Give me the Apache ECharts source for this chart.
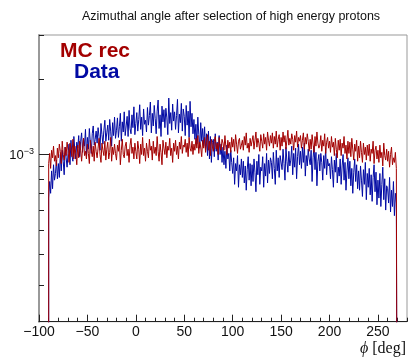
<!DOCTYPE html>
<html>
<head>
<meta charset="utf-8">
<script src="https://cdn.jsdelivr.net/npm/echarts@6/dist/echarts.min.js"></script>
<style>
  html, body { margin: 0; padding: 0; background: #fff; }
  #chart { width: 409px; height: 357px; }
</style>
</head>
<body>
<div id="chart"></div>
<script>
// histogram: 1 degree bins from -90 to 270, contents in units of 1e-5
const UNIT = 1e-5;
const binStart = -90;
const binWidth = 1;

const mcRec = [
  92, 101, 88, 104, 97, 108, 94, 99, 90, 106,
  97, 110, 103, 92, 113, 100, 95, 107, 99, 112,
  104, 93, 111, 106, 98, 115, 96, 108, 101, 91,
  109, 97, 113, 104, 94, 106, 116, 99, 103, 96,
  110, 101, 92, 114, 105, 98, 108, 94, 112, 103,
  97, 106, 116, 100, 93, 111, 104, 99, 113, 95,
  105, 112, 96, 102, 117, 94, 107, 100, 110, 101,
  95, 109, 103, 114, 91, 104, 115, 100, 97, 108,
  112, 99, 105, 93, 109, 116, 101, 107, 96, 111,
  103, 96, 113, 105, 92, 110, 100, 117, 99, 106,
  94, 111, 103, 97, 115, 104, 108, 95, 113, 101,
  107, 99, 118, 103, 94, 110, 102, 91, 114, 106,
  100, 112, 97, 108, 104, 116, 99, 106, 93, 111,
  103, 114, 100, 108, 96, 112, 105, 118, 101, 109,
  107, 115, 102, 111, 98, 117, 106, 103, 113, 100,
  110, 104, 116, 106, 119, 101, 112, 107, 98, 114,
  106, 117, 102, 111, 120, 104, 113, 99, 115, 108,
  103, 113, 118, 105, 111, 100, 117, 108, 104, 115,
  111, 104, 119, 107, 100, 114, 106, 112, 102, 117,
  107, 115, 103, 120, 110, 101, 113, 116, 105, 109,
  114, 104, 118, 109, 122, 106, 111, 102, 116, 108,
  109, 119, 105, 114, 123, 107, 116, 111, 103, 120,
  113, 106, 121, 110, 117, 104, 123, 114, 108, 119,
  111, 122, 106, 118, 110, 124, 107, 115, 120, 104,
  117, 108, 123, 112, 119, 105, 114, 125, 109, 116,
  110, 121, 115, 104, 119, 112, 124, 107, 117, 113,
  119, 106, 114, 122, 105, 117, 110, 121, 113, 103,
  115, 105, 120, 110, 102, 118, 108, 123, 111, 106,
  109, 119, 103, 114, 108, 121, 101, 112, 117, 106,
  113, 102, 118, 107, 112, 99, 116, 105, 97, 114,
  104, 115, 99, 111, 106, 118, 101, 109, 96, 113,
  101, 112, 98, 116, 105, 95, 110, 103, 114, 94,
  108, 97, 113, 102, 93, 111, 100, 107, 95, 109,
  99, 110, 94, 105, 101, 113, 92, 104, 108, 96,
  104, 93, 109, 97, 102, 90, 111, 99, 95, 105,
  94, 103, 89, 100, 107, 91, 97, 93, 102, 88
];

const data = [
  67, 78, 70, 86, 73, 91, 79, 84, 95, 80,
  92, 81, 100, 86, 104, 94, 83, 107, 97, 89,
  101, 110, 91, 114, 99, 94, 118, 104, 96, 112,
  106, 119, 98, 113, 122, 102, 116, 108, 126, 99,
  117, 105, 127, 112, 101, 121, 130, 109, 115, 124,
  111, 128, 118, 104, 133, 120, 110, 125, 137, 113,
  122, 131, 114, 138, 124, 108, 134, 119, 141, 116,
  125, 140, 117, 129, 146, 113, 135, 123, 148, 119,
  130, 142, 118, 150, 127, 121, 144, 128, 155, 120,
  133, 147, 124, 138, 158, 126, 141, 119, 152, 132,
  137, 123, 154, 131, 143, 162, 122, 146, 130, 157,
  139, 121, 149, 165, 127, 144, 118, 156, 135, 151,
  128, 153, 140, 120, 168, 133, 147, 125, 159, 136,
  148, 126, 143, 166, 122, 145, 134, 160, 124, 152,
  142, 119, 157, 131, 149, 117, 163, 129, 146, 121,
  138, 115, 132, 110, 141, 120, 106, 134, 113, 127,
  108, 129, 104, 121, 99, 124, 96, 118, 93, 112,
  115, 98, 121, 103, 112, 95, 119, 100, 110, 93,
  107, 91, 103, 88, 109, 96, 101, 86, 104, 93,
  84, 97, 76, 92, 86, 99, 74, 91, 83, 96,
  81, 94, 77, 90, 72, 87, 98, 79, 92, 75,
  91, 78, 96, 85, 71, 94, 83, 100, 76, 89,
  86, 98, 74, 92, 82, 101, 77, 95, 84, 97,
  93, 80, 102, 88, 76, 104, 86, 97, 81, 99,
  100, 87, 105, 92, 79, 107, 94, 85, 103, 90,
  95, 108, 83, 101, 89, 106, 80, 98, 110, 91,
  103, 88, 107, 93, 111, 82, 99, 90, 105, 96,
  91, 104, 78, 97, 108, 87, 102, 75, 94, 100,
  86, 101, 93, 79, 99, 88, 106, 83, 96, 90,
  92, 80, 98, 87, 74, 95, 85, 101, 77, 89,
  82, 96, 76, 90, 100, 79, 93, 72, 86, 97,
  80, 94, 75, 88, 70, 85, 96, 78, 91, 73,
  86, 72, 90, 79, 68, 87, 76, 93, 66, 84,
  74, 88, 69, 83, 65, 81, 91, 71, 85, 63,
  79, 67, 84, 62, 76, 89, 66, 80, 60, 75,
  73, 64, 81, 59, 72, 62, 78, 57, 70, 64
];

const xMajorTicks = [-100, -50, 0, 50, 100, 150, 200, 250];
const xMinorTicks = [-90, -80, -70, -60, -40, -30, -20, -10, 10, 20, 30, 40,
  60, 70, 80, 90, 110, 120, 130, 140, 160, 170, 180, 190,
  210, 220, 230, 240, 260, 270, 280];
const yMajorTicks = [1e-3];
const yMinorTicks = [3e-4, 4e-4, 5e-4, 6e-4, 7e-4, 8e-4, 9e-4, 2e-3, 3e-3];

const X_MIN = -100;
const X_MAX = 280;
const Y_MIN = 2.15e-4;
const Y_MAX = 3e-3;

const lg = (v) => Math.log10(v);
const floorY = lg(Y_MIN) - 1;

// step outline of a histogram, closed down to the axis at both ends
function histLine(values) {
  const pts = [[binStart, floorY]];
  values.forEach((v, i) => {
    pts.push([binStart + i * binWidth, lg(v * UNIT)]);
  });
  const last = values[values.length - 1];
  const end = binStart + values.length * binWidth;
  pts.push([end, lg(last * UNIT)]);
  pts.push([end, floorY]);
  return pts;
}

const redColor = '#a30000';
const blueColor = '#0009a3';
const labelFont = 'Liberation Sans';

const chart = echarts.init(document.getElementById('chart'));

const option = {
  backgroundColor: '#fff',
  animation: false,
  title: {
    text: 'Azimuthal angle after selection of high energy protons',
    left: 77,
    top: 5,
    textStyle: {
      fontFamily: labelFont,
      fontSize: 12.5,
      fontWeight: 'normal',
      color: '#111',
    },
  },
  legend: [{
    data: ['MC rec'],
    left: 54,
    top: 41,
    padding: 0,
    itemWidth: 0,
    itemHeight: 0,
    selectedMode: false,
    textStyle: { color: redColor, fontFamily: labelFont, fontSize: 21, fontWeight: 'bold' },
  }, {
    data: ['Data'],
    left: 68,
    top: 62,
    padding: 0,
    itemWidth: 0,
    itemHeight: 0,
    selectedMode: false,
    textStyle: { color: blueColor, fontFamily: labelFont, fontSize: 21, fontWeight: 'bold' },
  }],
  grid: {
    left: 39,
    right: 1,
    top: 35,
    bottom: 35.3,
    show: true,
    borderColor: '#999',
    borderWidth: 1,
  },
  xAxis: [{
    type: 'value',
    min: X_MIN,
    max: X_MAX,
    splitLine: { show: false },
    axisLine: { onZero: false, lineStyle: { color: '#222', width: 1 } },
    axisTick: {
      inside: true,
      length: 7,
      customValues: xMajorTicks,
      lineStyle: { color: '#222' },
    },
    axisLabel: {
      customValues: xMajorTicks,
      margin: 3,
      fontFamily: labelFont,
      fontSize: 14,
      color: '#111',
      formatter: (v) => (v < 0 ? '\u2212' + Math.abs(v) : String(v)),
    },
    name: '{i|\u03d5} [deg]',
    nameLocation: 'end',
    nameGap: -1,
    nameTextStyle: {
      fontFamily: 'Liberation Serif',
      fontSize: 16,
      color: '#111',
      align: 'right',
      verticalAlign: 'top',
      padding: [19, 0, 0, 0],
      rich: {
        i: { fontFamily: 'Liberation Serif', fontStyle: 'italic', fontSize: 16, color: '#111' },
      },
    },
  }, {
    type: 'value',
    min: X_MIN,
    max: X_MAX,
    position: 'bottom',
    splitLine: { show: false },
    axisLine: { show: false, onZero: false },
    axisLabel: { show: false },
    axisTick: {
      inside: true,
      length: 4,
      customValues: xMinorTicks,
      lineStyle: { color: '#222' },
    },
  }],
  yAxis: [{
    type: 'value',
    min: lg(Y_MIN),
    max: lg(Y_MAX),
    splitLine: { show: false },
    axisLine: { show: true, onZero: false, lineStyle: { color: '#999', width: 2 } },
    axisTick: {
      inside: true,
      length: 11,
      customValues: yMajorTicks.map(lg),
      lineStyle: { color: '#222' },
    },
    axisLabel: {
      customValues: yMajorTicks.map(lg),
      margin: 5,
      formatter: () => '{a|10}{b|\u22123}',
      rich: {
        a: { fontFamily: labelFont, fontSize: 13, color: '#111', lineHeight: 15, verticalAlign: 'bottom' },
        b: { fontFamily: labelFont, fontSize: 9, color: '#111', verticalAlign: 'top' },
      },
    },
  }, {
    type: 'value',
    min: lg(Y_MIN),
    max: lg(Y_MAX),
    position: 'left',
    splitLine: { show: false },
    axisLine: { show: false, onZero: false },
    axisLabel: { show: false },
    axisTick: {
      inside: true,
      length: 5,
      customValues: yMinorTicks.map(lg),
      lineStyle: { color: '#222' },
    },
  }],
  series: [{
    name: 'Data',
    type: 'line',
    step: 'end',
    showSymbol: false,
    symbol: 'none',
    clip: true,
    lineStyle: { color: blueColor, width: 1 },
    itemStyle: { color: blueColor },
    data: histLine(data),
  }, {
    name: 'MC rec',
    type: 'line',
    step: 'end',
    showSymbol: false,
    symbol: 'none',
    clip: true,
    lineStyle: { color: redColor, width: 1 },
    itemStyle: { color: redColor },
    data: histLine(mcRec),
  }],
};

chart.setOption(option);
</script>
</body>
</html>
